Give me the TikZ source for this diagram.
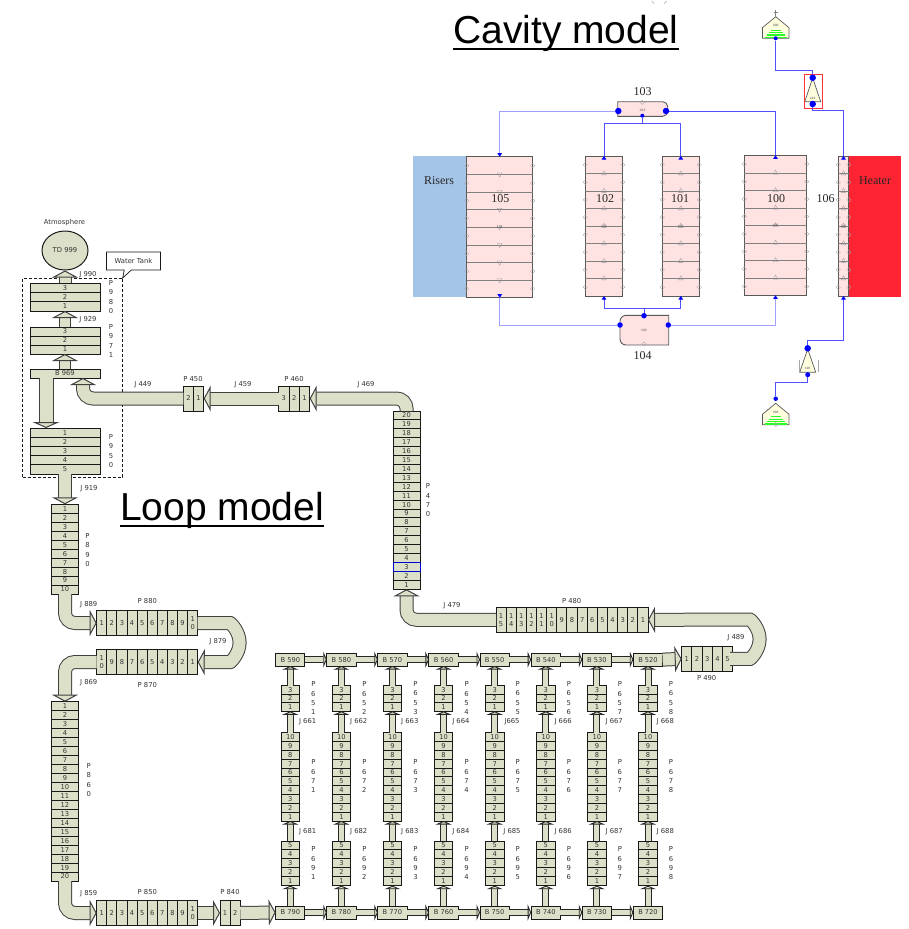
\documentclass[tikz,border=0pt]{standalone}
\usepackage{fontspec}
\setmainfont{DejaVu Sans}
\newfontfamily\titlefont{Liberation Sans}
\newfontfamily\cavfont{Liberation Serif}
\usetikzlibrary{arrows.meta,calc,shapes.geometric,shapes.callouts}
\definecolor{pipefill}{HTML}{DDE0C8}
\definecolor{cavpink}{HTML}{FFE3E3}
\definecolor{risblue}{HTML}{A5C5E8}
\definecolor{heatred}{HTML}{FF2433}
\definecolor{cavblue}{HTML}{5050FF}
\definecolor{cavpale}{HTML}{A0A0FF}
\definecolor{valvefill}{HTML}{FFFFE0}
\definecolor{labgray}{HTML}{333333}
\tikzset{
  pipecell/.style={draw=black!90, line width=1pt, fill=pipefill, inner sep=0pt, outer sep=0pt,
    align=center, text=labgray, font=\fontsize{6.7}{8}\selectfont},
  bvolume/.style={pipecell, minimum width=29.3pt, minimum height=13pt},
  lab/.style={inner sep=0pt, align=center, text=labgray, font=\fontsize{6.8}{9.3}\selectfont},
  bigjun/.style={line width=1pt, draw=black!75, double=pipefill, double distance=12pt,
    rounded corners=10pt, -{Triangle[length=7pt,width=26pt,fill=pipefill,line width=1pt]}},
  smalljun/.style={line width=1pt, draw=black!85, double=pipefill, double distance=5pt,
    -{Triangle[length=3.5pt,width=16pt,fill=pipefill,line width=1pt]}},
  cavbox/.style={draw=black!65, line width=.9pt, fill=cavpink, inner sep=0pt, outer sep=0pt},
  cavgrid/.style={draw=black!50, line width=.5pt},
  cavdia/.style={diamond, draw=black!35, line width=.3pt, minimum size=4.5pt, inner sep=0pt},
  cavtri/.style={regular polygon, regular polygon sides=3, draw=black!40, line width=.3pt,
    minimum size=5.5pt, inner sep=0pt},
  tinylab/.style={inner sep=0pt, text=black!70, font=\fontsize{3}{3}\selectfont},
  cavlab/.style={inner sep=0pt, text=black!85, font=\cavfont\fontsize{12}{12}\selectfont},
  cavline/.style={draw=cavblue, line width=.9pt},
  cavlight/.style={draw=cavpale, line width=.8pt},
  tipin/.style={-{Triangle[length=3.5pt,width=4.5pt,color=blue]}},
  tipback/.style={-{Triangle[length=3.5pt,width=4.5pt,color=blue,reversed]}},
  cavdot/.style={circle, fill=blue, minimum size=6.5pt, inner sep=0pt},
  cavdotsm/.style={circle, fill=blue, minimum size=4pt, inner sep=0pt},
  modeltitle/.style={inner sep=0pt, anchor=base west, font=\titlefont\fontsize{39}{39}\selectfont}
}
% pipes: name, left, top, right, bottom, cell labels
\newcommand{\hpipe}[6]{
  \node[pipecell, minimum width={((#4)-(#2))*1pt}, minimum height={((#5)-(#3))*1pt}] (#1) at ({((#2)+(#4))/2},{((#3)+(#5))/2}) {};
  \foreach \lab [count=\n] in {#6} {\xdef\ncell{\n}}
  \foreach \lab [count=\n] in {#6}
    \node[pipecell, minimum width={((#4)-(#2))*1pt/\ncell}, minimum height={((#5)-(#3))*1pt}] (#1-\n) at ({(#2)+(\n-.5)*((#4)-(#2))/\ncell},{((#3)+(#5))/2}) {\lab};
}
\newcommand{\vpipe}[6]{
  \node[pipecell, minimum width={((#4)-(#2))*1pt}, minimum height={((#5)-(#3))*1pt}] (#1) at ({((#2)+(#4))/2},{((#3)+(#5))/2}) {};
  \foreach \lab [count=\n] in {#6} {\xdef\ncell{\n}}
  \foreach \lab [count=\n] in {#6}
    \node[pipecell, minimum width={((#4)-(#2))*1pt}, minimum height={((#5)-(#3))*1pt/\ncell}] (#1-\n) at ({((#2)+(#4))/2},{(#3)+(\n-.5)*((#5)-(#3))/\ncell}) {\lab};
}
% cavity channel: name, left, top, right, bottom, id, triangle rotation
\newcommand{\cavchannel}[7]{
  \node[cavbox, minimum width={(#4-#2)*1pt}, minimum height={(#5-#3)*1pt}] (#1) at ({(#2+#4)/2},{(#3+#5)/2}) {};
  \foreach \k in {1,...,7} {
    \draw[cavgrid] ($(#1.north west)!\k/8!(#1.south west)$) -- ($(#1.north east)!\k/8!(#1.south east)$);
    \node[cavtri, shape border rotate=#7] (#1-t\k) at ($(#1.north)!\k/8!(#1.south)$) {};
  }
  \foreach \k in {1,...,8} {
    \node[cavdia] (#1-l\k) at ($(#1.north west)!{(\k-.5)/8}!(#1.south west)$) {};
    \node[cavdia] (#1-r\k) at ($(#1.north east)!{(\k-.5)/8}!(#1.south east)$) {};
  }
  \node[tinylab] (#1-id) at (#1) {#6};
}
% time dependent volume: name, x, apex y, id
\newcommand{\tdvolume}[4]{
  \draw[draw=black!65, line width=.7pt, fill=valvefill] (#2,#3) -- ++(13.3,11) -- ++(0,10.5) -- ++(-26.6,0) -- ++(0,-10.5) -- cycle;
  \foreach \k/\w in {0/5,1/7,2/9,3/11}
    \draw[draw=green!85!white, line width=1.1pt] ({#2-\w},{#3+13.5+\k*2.4}) -- ({#2+\w},{#3+13.5+\k*2.4});
  \node[tinylab] (#1) at (#2,#3+9) {#4};
}
% single junction triangle: name, x, apex y, base y, id
\newcommand{\sjtri}[5]{
  \draw[draw=black!65, line width=.7pt, fill=valvefill] (#2,#3) -- ({#2+8},#4) -- ({#2-8},#4) -- cycle;
  \node[tinylab] (#1) at (#2,#4-3.5) {#5};
}
\begin{document}
\begin{tikzpicture}[x=1pt, y=-1pt]
  \useasboundingbox (0,0) rectangle (909,929);

  % titles
  \node[modeltitle] (cavitytitle) at (453,43) {Cavity model};
  \node[modeltitle] (looptitle) at (120,520) {Loop model};
  \draw[line width=2.4pt] ([yshift=-5.8pt]cavitytitle.base west) -- ([yshift=-5.8pt]cavitytitle.base east);
  \draw[line width=2.4pt] ([yshift=-6.2pt]looptitle.base west) -- ([yshift=-6.2pt]looptitle.base east);
  \draw[black!50, line width=.4pt] (651.7,1) -- (654,3.5) (666.7,1) -- (664,3.5);

  % water tank
  \node[draw=black!90, line width=.8pt, densely dashed, minimum width=100pt, minimum height=199pt, inner sep=0pt] (tankbox) at (72.7,377.5) {};
  \node[ellipse, draw=black!90, line width=1pt, fill=pipefill, minimum width=46pt, minimum height=39pt, inner sep=0pt,
    text=labgray, font=\fontsize{6.8}{8}\selectfont] (TD999) at (65,250.5) {TD 999};
  \node[lab] (atm) at (64.5,223) {Atmosphere};
  \node[rectangle callout, draw=black!90, line width=.7pt, fill=white, minimum width=54pt, minimum height=18pt, inner sep=0pt,
    text=labgray, font=\fontsize{6.8}{8}\selectfont, callout absolute pointer={(122.7,278)}] (tankcall) at (133.5,261) {Water Tank};
  \vpipe{P980}{30}{283}{100}{311}{3,2,1}
  \vpipe{P971}{30}{327}{100}{354}{3,2,1}
  \node[pipecell, minimum width=70pt, minimum height=9pt] (B969) at (65,373.5) {B 969};
  \vpipe{P950}{30}{428}{100}{474}{1,...,5}
  \node[lab] (labP980) at (111,297) {P\\9\\8\\0};
  \node[lab] (labP971) at (111,341) {P\\9\\7\\1};
  \node[lab] (labP950) at (111,451) {P\\9\\5\\0};
  \node[lab] (labJ990) at (88,274.5) {J 990};
  \node[lab] (labJ929) at (88,320) {J 929};
  \node[lab] (labJ919) at (89,489) {J 919};
  \draw[bigjun, double distance=11pt] (P980.north) -- (TD999.south);
  \draw[bigjun, double distance=10pt] (P971.north) -- (P980.south);
  \draw[bigjun, double distance=10pt] (B969.north) -- (P971.south);
  \draw[bigjun, double distance=13pt, -{Triangle[length=6pt,width=27pt,fill=pipefill,line width=1pt]}] ([xshift=-19pt]B969.south) -- ([xshift=-19pt]P950.north);

  % upper loop
  \hpipe{P450}{183.3}{386}{203.7}{411}{2,1}
  \hpipe{P460}{278.7}{386}{309.7}{411}{3,2,1}
  \vpipe{P470}{393}{411}{420}{589.3}{20,19,...,1}
  \draw[blue!80!black, line width=.8pt] (P470-18.north west) rectangle (P470-18.south east);
  \hpipe{P480}{496}{607.3}{648}{632.3}{{1\\5},{1\\4},{1\\3},{1\\2},{1\\1},{1\\0},9,8,...,1}
  \hpipe{P490}{681.7}{646.7}{732.7}{671}{1,...,5}
  \node[lab] (labP450) at (193,379) {P 450};
  \node[lab] (labP460) at (294,379) {P 460};
  \node[lab] (labJ449) at (143,385) {J 449};
  \node[lab] (labJ459) at (243,385) {J 459};
  \node[lab] (labJ469) at (366,385) {J 469};
  \node[lab] (labP470) at (428,500.5) {P\\4\\7\\0};
  \node[lab] (labJ479) at (452,606) {J 479};
  \node[lab] (labP480) at (571.7,601) {P 480};
  \node[lab] (labJ489) at (736,638) {J 489};
  \node[lab] (labP490) at (706.7,678) {P 490};
  \draw[bigjun] (P450.west) -| ([xshift=18pt]B969.south);
  \draw[bigjun] (P460.west) -- (P450.east);
  \draw[bigjun] (P470.north) |- (P460.east);
  \draw[bigjun] (P480.west) -| (P470.south);
  \draw[bigjun] (P490.east) -- ++(7.3,0) arc[start angle=-90, end angle=90, radius=19.6pt] -- (P480.east);

  % left column
  \vpipe{P890}{51.7}{504.3}{78.3}{594}{1,...,10}
  \hpipe{P880}{96.7}{610.7}{197.7}{635.3}{1,...,9,{1\\0}}
  \hpipe{P870}{96.7}{649.3}{197.7}{674.7}{{1\\0},9,8,...,1}
  \vpipe{P860}{51.7}{701.7}{78.3}{881}{1,...,20}
  \hpipe{P850}{96.7}{900.7}{197.7}{925.3}{1,...,9,{1\\0}}
  \hpipe{P840}{220}{900.7}{240.3}{925.3}{1,2}
  \node[lab] (labP890) at (87.5,550) {P\\8\\9\\0};
  \node[lab] (labJ889) at (88.7,604.7) {J 889};
  \node[lab] (labP880) at (147.3,601.3) {P 880};
  \node[lab] (labJ879) at (218,641.3) {J 879};
  \node[lab] (labP870) at (147.3,684.7) {P 870};
  \node[lab] (labJ869) at (88.7,682.3) {J 869};
  \node[lab] (labP860) at (88.7,780) {P\\8\\6\\0};
  \node[lab] (labJ859) at (88.7,893.3) {J 859};
  \node[lab] (labP850) at (147.3,892.3) {P 850};
  \node[lab] (labP840) at (230,892.3) {P 840};
  \draw[bigjun] (P950.south) -- (P890.north);
  \draw[bigjun] (P890.south) |- (P880.west);
  \draw[bigjun] (P880.east) -- ++(22.3,0) arc[start angle=90, end angle=-90, radius=19.6pt] -- (P870.east);
  \draw[bigjun] (P870.west) -| (P860.north);
  \draw[bigjun] (P860.south) |- (P850.west);
  \draw[bigjun] (P850.east) -- (P840.west);

  % parallel channels
  \foreach \i in {1,...,8} {
    \pgfmathsetmacro{\xc}{290.3+51.1*(\i-1)}
    \pgfmathtruncatemacro{\topid}{600-10*\i}
    \pgfmathtruncatemacro{\botid}{800-10*\i}
    \pgfmathtruncatemacro{\ptop}{650+\i}
    \pgfmathtruncatemacro{\pmid}{670+\i}
    \pgfmathtruncatemacro{\pbot}{690+\i}
    \pgfmathtruncatemacro{\jtop}{660+\i}
    \pgfmathtruncatemacro{\jbot}{680+\i}
    \node[bvolume] (B\topid) at (\xc,659.6) {B \topid};
    \node[bvolume] (B\botid) at (\xc,912.5) {B \botid};
    \vpipe{P\ptop}{\xc-9.3}{685.7}{\xc+9.3}{711.3}{3,2,1}
    \vpipe{P\pmid}{\xc-9.3}{732.7}{\xc+9.3}{821}{10,9,...,1}
    \vpipe{P\pbot}{\xc-9.3}{841}{\xc+9.3}{885.7}{5,4,...,1}
    \node[lab] (labP\ptop) at (\xc+23,698.2) {P\\6\\5\\\i};
    \node[lab] (labP\pmid) at (\xc+23,776.3) {P\\6\\7\\\i};
    \node[lab] (labP\pbot) at (\xc+23,863.3) {P\\6\\9\\\i};
    \ifnum\i=5
      \node[lab] (labJ\jtop) at (\xc+17.3,721.7) {J\jtop};
    \else
      \node[lab] (labJ\jtop) at (\xc+17.3,721.7) {J \jtop};
    \fi
    \node[lab] (labJ\jbot) at (\xc+17.3,831.3) {J \jbot};
    \draw[smalljun] (B\botid.north) -- (P\pbot.south);
    \draw[smalljun] (P\pbot.north) -- (P\pmid.south);
    \draw[smalljun] (P\pmid.north) -- (P\ptop.south);
    \draw[smalljun] (P\ptop.north) -- (B\topid.south);
  }
  \foreach \a/\b in {590/580,580/570,570/560,560/550,550/540,540/530,530/520} {
    \draw[smalljun] (B\a.east) -- (B\b.west);
  }
  \foreach \a/\b in {790/780,780/770,770/760,760/750,750/740,740/730,730/720} {
    \draw[smalljun] (B\a.east) -- (B\b.west);
  }
  \draw[bigjun] (P840.east) -- (B790.west);
  \draw[bigjun] (B520.east) -- (P490.west);

  % cavity model
  \node[fill=risblue, minimum width=53.4pt, minimum height=140.7pt, inner sep=0pt] (risers) at (440,226.3) {};
  \node[fill=heatred, minimum width=52.3pt, minimum height=140.7pt, inner sep=0pt] (heater) at (874.9,226.3) {};
  \cavchannel{c105}{466.7}{156.7}{532.7}{297.7}{105}{180}
  \cavchannel{c102}{585.3}{156}{622.7}{296}{102}{0}
  \cavchannel{c101}{662.3}{156}{699.3}{296}{101}{0}
  \cavchannel{c100}{744.3}{155.3}{806.7}{295.3}{100}{0}
  \cavchannel{c106}{838.3}{156}{848.7}{296}{106}{0}
  \node[cavlab] (labris) at (439,180.7) {Risers};
  \node[cavlab] (labheat) at (875,180.7) {Heater};
  \node[cavlab] (lab105) at (500.3,199) {105};
  \node[cavlab] (lab102) at (605,199) {102};
  \node[cavlab] (lab101) at (680,199) {101};
  \node[cavlab] (lab100) at (776,199) {100};
  \node[cavlab] (lab106) at (825.7,199) {106};
  \node[cavlab] (lab103) at (642.7,91.3) {103};
  \node[cavlab] (lab104) at (642.7,356) {104};
  % plena
  \draw[cavbox] (617.7,116.3) -- (617.7,101.7) [rounded corners=5pt] -- (667.7,101.7) -- (667.7,116.3) [sharp corners] -- cycle;
  \draw[cavbox] (668.7,345) [rounded corners=6pt] -- (620,345) -- (620,315.3) [sharp corners] -- (668.7,315.3) -- cycle;
  \node[cavdia] (dia103) at (642.3,102.3) {};
  \node[tinylab] (id103) at (642.3,110) {103};
  \node[cavdia] (dia104) at (644,344) {};
  \node[tinylab] (id104) at (644,330.7) {104};
  \node[cavdot] (d103w) at (618.3,111) {};
  \node[cavdot] (d103e) at (666,111) {};
  \node[cavdotsm] (d103b) at (642.3,115.7) {};
  \node[cavdot, minimum size=5.5pt] (d104w) at (620,325) {};
  \node[cavdot, minimum size=5.5pt] (d104e) at (668.3,325) {};
  \node[cavdot, minimum size=5.5pt] (d104t) at (644,315.7) {};
  \coordinate (j103) at (642.3,123.3);
  \coordinate (j104) at (644,308);
  \draw[cavlight, tipin] (d103w) -| (c105.north);
  \draw[cavline, tipback] (d103e) -| ([yshift=-3.5pt]c100.north);
  \draw[cavline] (d103b) -- (j103);
  \draw[cavline, tipback] (j103) -| ([yshift=-3.5pt]c102.north);
  \draw[cavline, tipback] (j103) -| ([yshift=-3.5pt]c101.north);
  \draw[cavlight, {Triangle[length=3.5pt,width=4.5pt,color=blue,reversed]}-] ([yshift=3.5pt]c105.south) |- (d104w);
  \draw[cavlight, tipin] (d104e) -| (c100.south);
  \draw[cavline] (d104t) -- (j104);
  \draw[cavline, tipin] (j104) -| (c102.south);
  \draw[cavline, tipin] (j104) -| (c101.south);
  % top inlet
  \tdvolume{td900}{775.7}{16.7}{900}
  \draw[black!50, line width=.8pt] (775.7,16.7) -- (775.7,10) (773.7,12) -- (777.7,12);
  \sjtri{sj419}{812.7}{78}{101.7}{419}
  \draw[red!80, line width=.8pt] (804.3,74) rectangle (822.7,108.3);
  \node[cavdotsm] (d900) at (775.7,38.3) {};
  \node[cavdot] (d419t) at (812.7,77.7) {};
  \node[cavdot] (d419b) at (812.7,104) {};
  \coordinate (j900) at (812.7,70.3);
  \coordinate (j419) at (812.7,110.3);
  \draw[cavline] (d900) |- (j900) -- (d419t);
  \draw[cavline, tipback] (d419b) -- (j419) -| ([yshift=-3.5pt]c106.north);
  % bottom inlet
  \tdvolume{td906}{775.7}{403.3}{906}
  \node[cavdia] (dia906) at (775.7,424.5) {};
  \sjtri{sj405}{807.7}{349}{372.3}{405}
  \draw[black!35, line width=.4pt] (799,360) -- (799,372) (817.7,360) -- (817.7,372);
  \node[cavdot] (d405t) at (807.7,348.3) {};
  \node[cavdotsm, minimum size=5pt] (d405b) at (807.7,374.7) {};
  \node[cavdotsm, minimum size=4.5pt] (d906) at (775.7,398.7) {};
  \coordinate (j405) at (807.7,340.7);
  \coordinate (j906) at (775.7,382);
  \draw[cavline, tipin] (d405t) -- (j405) -| (c106.south);
  \draw[cavline] (d405b) |- (j906) -- (d906);
\end{tikzpicture}
\end{document}
